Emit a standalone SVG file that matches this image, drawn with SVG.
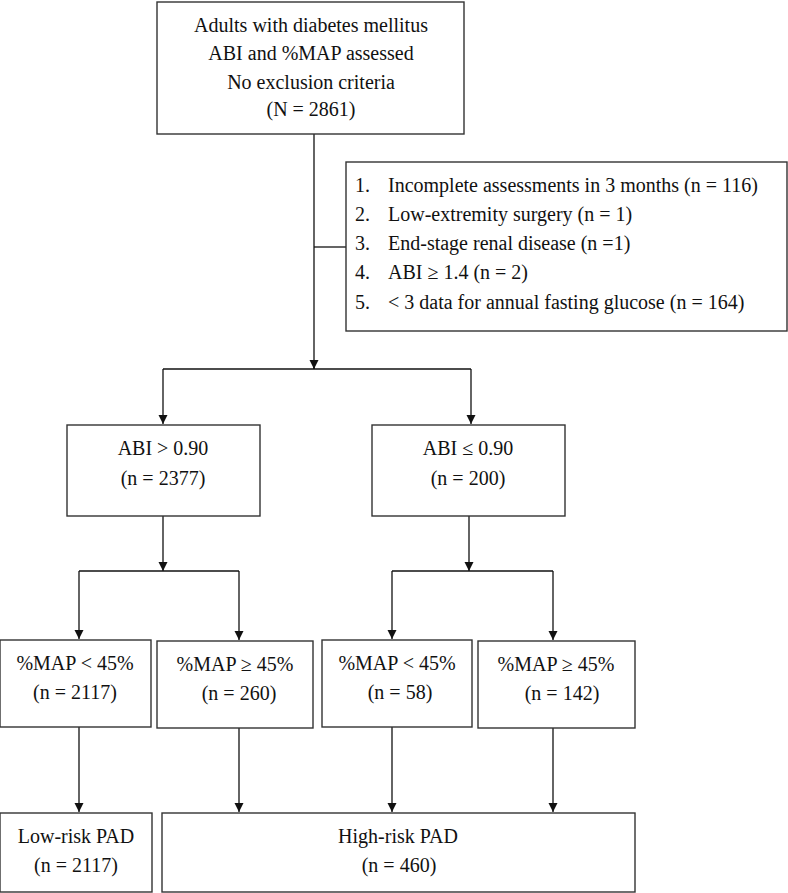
<svg xmlns="http://www.w3.org/2000/svg" width="788" height="893" viewBox="0 0 788 893" font-family="'Liberation Serif', 'Times New Roman', 'DejaVu Serif', serif" font-size="20">
<style>
.box{fill:#fff;stroke:#333;stroke-width:1.4}
.ln{fill:none;stroke:#111;stroke-width:1.3}
text{font-family:'Liberation Serif', 'Times New Roman', 'DejaVu Serif', serif;font-size:20px;fill:#111}
.c{text-anchor:middle}
</style>
<defs>
<marker id="ah" markerWidth="10" markerHeight="10" refX="9" refY="4.5" orient="auto" markerUnits="userSpaceOnUse">
<path d="M0,0 L9,4.5 L0,9 Z" fill="#111"/>
</marker>
</defs>
<rect width="788" height="893" fill="#fff"/>
<g id="connectors">
<path class="ln" d="M314,134 V369"/>
<path class="ln" d="M314,360 V369" marker-end="url(#ah)"/>
<path class="ln" d="M314,247 H346"/>
<path class="ln" d="M163,369 H471"/>
<path class="ln" d="M163,369 V424" marker-end="url(#ah)"/>
<path class="ln" d="M471,369 V424" marker-end="url(#ah)"/>
<path class="ln" d="M163,516 V571" marker-end="url(#ah)"/>
<path class="ln" d="M469,516 V571" marker-end="url(#ah)"/>
<path class="ln" d="M79,571 H239"/>
<path class="ln" d="M392,571 H553"/>
<path class="ln" d="M79,571 V639" marker-end="url(#ah)"/>
<path class="ln" d="M239,571 V640" marker-end="url(#ah)"/>
<path class="ln" d="M392,571 V639" marker-end="url(#ah)"/>
<path class="ln" d="M553,571 V640" marker-end="url(#ah)"/>
<path class="ln" d="M79,727 V812" marker-end="url(#ah)"/>
<path class="ln" d="M239,728 V812" marker-end="url(#ah)"/>
<path class="ln" d="M392,727 V812" marker-end="url(#ah)"/>
<path class="ln" d="M553,728 V812" marker-end="url(#ah)"/>
</g>
<g id="start">
<rect class="box" x="157" y="2" width="307" height="132"/>
<text class="c" x="311" y="32">Adults with diabetes mellitus</text>
<text class="c" x="311" y="60">ABI and %MAP assessed</text>
<text class="c" x="311" y="89">No exclusion criteria</text>
<text class="c" x="311" y="116">(N = 2861)</text>
</g>
<g id="exclusion">
<rect class="box" x="346" y="162" width="441" height="169"/>
<text x="355" y="192">1.</text><text x="388" y="192">Incomplete assessments in 3 months (n = 116)</text>
<text x="355" y="221">2.</text><text x="388" y="221">Low-extremity surgery (n = 1)</text>
<text x="355" y="250">3.</text><text x="388" y="250">End-stage renal disease (n =1)</text>
<text x="355" y="279">4.</text><text x="388" y="279">ABI ≥ 1.4 (n = 2)</text>
<text x="355" y="309">5.</text><text x="388" y="309">&lt; 3 data for annual fasting glucose (n = 164)</text>
</g>
<g id="abi-high">
<rect class="box" x="67" y="425" width="193" height="91"/>
<text class="c" x="163" y="455">ABI &gt; 0.90</text>
<text class="c" x="163" y="485">(n = 2377)</text>
</g>
<g id="abi-low">
<rect class="box" x="372" y="425" width="193" height="91"/>
<text class="c" x="468" y="455">ABI ≤ 0.90</text>
<text class="c" x="468" y="485">(n = 200)</text>
</g>
<g id="map1">
<rect class="box" x="0" y="640" width="151" height="87"/>
<text class="c" x="75" y="670">%MAP &lt; 45%</text>
<text class="c" x="75" y="699">(n = 2117)</text>
</g>
<g id="map2">
<rect class="box" x="157" y="641" width="156" height="87"/>
<text class="c" x="235" y="671">%MAP ≥ 45%</text>
<text class="c" x="239" y="700">(n = 260)</text>
</g>
<g id="map3">
<rect class="box" x="322" y="640" width="150" height="87"/>
<text class="c" x="397" y="670">%MAP &lt; 45%</text>
<text class="c" x="400" y="699">(n = 58)</text>
</g>
<g id="map4">
<rect class="box" x="478" y="641" width="157" height="87"/>
<text class="c" x="556" y="671">%MAP ≥ 45%</text>
<text class="c" x="562" y="700">(n = 142)</text>
</g>
<g id="low-risk">
<rect class="box" x="0" y="813" width="152" height="79"/>
<text class="c" x="76" y="843">Low-risk PAD</text>
<text class="c" x="76" y="872">(n = 2117)</text>
</g>
<g id="high-risk">
<rect class="box" x="162" y="813" width="473" height="79"/>
<text class="c" x="398" y="843">High-risk PAD</text>
<text class="c" x="399" y="872">(n = 460)</text>
</g>
</svg>
